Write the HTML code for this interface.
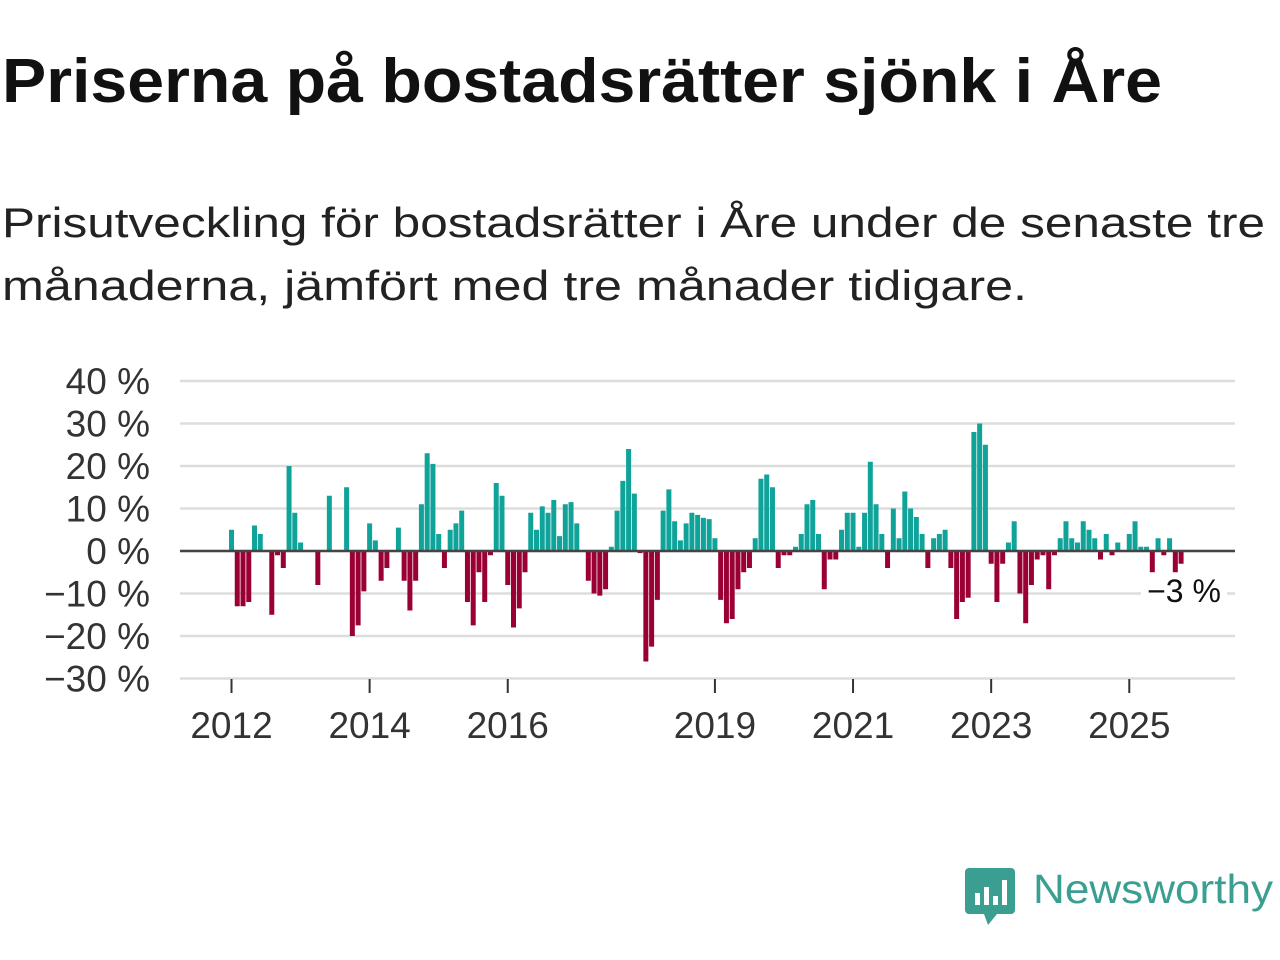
<!DOCTYPE html>
<html><head><meta charset="utf-8"><style>
html,body{margin:0;padding:0;background:#fff;width:1280px;height:960px;overflow:hidden}
svg{display:block;font-family:"Liberation Sans","DejaVu Sans",sans-serif}
</style></head><body>
<svg id="chart" width="1280" height="960" viewBox="0 0 1280 960">
<text x="2" y="102" font-size="62" font-weight="bold" fill="#111" textLength="1160" lengthAdjust="spacingAndGlyphs">Priserna på bostadsrätter sjönk i Åre</text>
<text x="2" y="237" font-size="42" fill="#222" textLength="1263" lengthAdjust="spacingAndGlyphs">Prisutveckling för bostadsrätter i Åre under de senaste tre</text>
<text x="2" y="300" font-size="42" fill="#222" textLength="1025" lengthAdjust="spacingAndGlyphs">månaderna, jämfört med tre månader tidigare.</text>
<g id="grid"></g>
<g id="ylabels"></g>
<g id="bars"></g>
<line x1="180" x2="1235" y1="551" y2="551" stroke="#444" stroke-width="2.5"/>
<g id="xaxis"></g>
<rect x="1141" y="574" width="86" height="36" fill="#fff"/>
<text id="lastlabel" x="1184" y="602" font-size="32" fill="#111" text-anchor="middle">−3 %</text>
<g>
<path d="M969 868 h42 a4 4 0 0 1 4 4 v38 a4 4 0 0 1 -4 4 h-14 l-9 11 l-4 -11 h-15 a4 4 0 0 1 -4 -4 v-38 a4 4 0 0 1 4 -4z" fill="#3a9e91"/>
<rect x="975" y="893" width="5" height="12" fill="#fff"/><rect x="984" y="887" width="5" height="18" fill="#fff"/><rect x="993" y="896" width="5" height="9" fill="#fff"/><rect x="1002" y="880" width="5" height="25" fill="#fff"/>
<text x="1033" y="903" font-size="41" fill="#3a9e91" textLength="240" lengthAdjust="spacingAndGlyphs">Newsworthy</text>
</g>
</svg>
<script>
const values = [5,-13,-13,-12,6,4,null,-15,-1,-4,20,9,2,null,null,-8,null,13,null,null,15,-20,-17.5,-9.5,6.5,2.5,-7,-4,null,5.5,-7,-14,-7,11,23,20.5,4,-4,5,6.5,9.5,-12,-17.5,-5,-12,-1,16,13,-8,-18,-13.5,-5,9,5,10.5,9,12,3.5,11,11.5,6.5,null,-7,-10,-10.5,-9,1,9.5,16.5,24,13.5,-0.5,-26,-22.5,-11.5,9.5,14.5,7,2.5,6.5,9,8.5,7.8,7.5,3,-11.5,-17,-16,-9,-5,-4,3,17,18,15,-4,-1,-1,1,4,11,12,4,-9,-2,-2,5,9,9,1,9,21,11,4,-4,10,3,14,10,8,4,-4,3,4,5,-4,-16,-12,-11,28,30,25,-3,-12,-3,2,7,-10,-17,-8,-2,-1,-9,-1,3,7,3,2,7,5,3,-2,4,-1,2,null,4,7,1,1,-5,3,-1,3,-5,-3];
const startYear = 2012;
const yTicks = [40,30,20,10,0,-10,-20,-30];
const yTickLabels = ["40 %","30 %","20 %","10 %","0 %","−10 %","−20 %","−30 %"];
const xTickYears = [2012,2014,2016,2019,2021,2023,2025];
const NS="http://www.w3.org/2000/svg";
function y(v){return 551 - v*4.25;}
function x(m){return 231.5 + m*5.755;}
const grid=document.getElementById('grid'), yl=document.getElementById('ylabels'), bars=document.getElementById('bars'), xa=document.getElementById('xaxis');
yTicks.forEach((t,i)=>{
  const l=document.createElementNS(NS,'line');
  l.setAttribute('x1',180);l.setAttribute('x2',1235);l.setAttribute('y1',y(t));l.setAttribute('y2',y(t));
  l.setAttribute('stroke','#ddd');l.setAttribute('stroke-width',2.5);
  
  
  grid.appendChild(l);
  const tx=document.createElementNS(NS,'text');
  tx.setAttribute('x',150);tx.setAttribute('y',y(t)+13);tx.setAttribute('text-anchor','end');
  tx.setAttribute('font-size',37);tx.setAttribute('fill','#333');tx.textContent=yTickLabels[i];
  
  
  yl.appendChild(tx);
});
values.forEach((v,m)=>{
  if(v===null)return;
  const r=document.createElementNS(NS,'rect');
  const top=Math.min(y(v),y(0)), h=Math.abs(y(v)-y(0));
  r.setAttribute('x',x(m)-2.5);r.setAttribute('width',5);r.setAttribute('y',top);r.setAttribute('height',Math.max(h,0.5));
  r.setAttribute('fill',v>=0?'#10a39a':'#9b0034');
  
  
  bars.appendChild(r);
});
xTickYears.forEach(yr=>{
  const px=x((yr-startYear)*12);
  const l=document.createElementNS(NS,'line');
  l.setAttribute('x1',px);l.setAttribute('x2',px);l.setAttribute('y1',679);l.setAttribute('y2',693);
  l.setAttribute('stroke','#333');l.setAttribute('stroke-width',2);
  
  
  xa.appendChild(l);
  const tx=document.createElementNS(NS,'text');
  tx.setAttribute('x',px);tx.setAttribute('y',738);tx.setAttribute('text-anchor','middle');
  tx.setAttribute('font-size',37);tx.setAttribute('fill','#333');tx.textContent=yr;
  
  
  xa.appendChild(tx);
});
</script>
</body></html>
